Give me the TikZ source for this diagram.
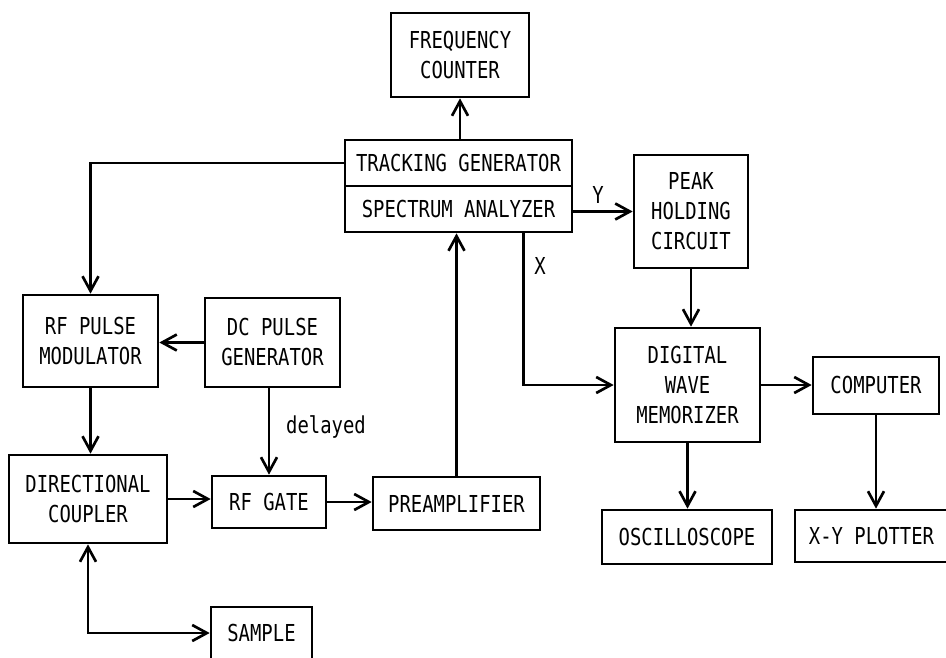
\documentclass[tikz,border=0pt]{standalone}
\usepackage{fontspec}
\newfontfamily\lab[FakeStretch=0.81]{DejaVu Sans Mono}
\usetikzlibrary{arrows.meta}
\begin{document}
\begin{tikzpicture}[x=0.75pt,y=-0.75pt,
  lblfont/.style={font=\lab\fontsize{17.5}{22.5}\selectfont},
  box/.style={draw,line width=2pt,align=center,inner sep=0pt,lblfont},
  tip/.tip={Straight Barb[length=11pt,width=12pt,line width=2pt]},
  arr/.style={line width=2pt,-tip},
  arrb/.style={line width=2pt,tip-tip},
  lbl/.style={lblfont,inner sep=0pt}]
\useasboundingbox (0,0) rectangle (946,657);
\clip (0,0) rectangle (946,657);
\fill[white] (0,0) rectangle (946,657);

\node[box,minimum width=103.5pt,minimum height=63pt] (freq) at (460,55) {FREQUENCY\\COUNTER};
\node[box,minimum width=170.25pt,minimum height=34.5pt] (track) at (458.5,163) {TRACKING GENERATOR};
\node[box,minimum width=170.25pt,minimum height=34.5pt] (spec) at (458.5,209) {SPECTRUM ANALYZER};
\node[box,minimum width=85.5pt,minimum height=84.75pt] (peak) at (691,211.5) {PEAK\\HOLDING\\CIRCUIT};
\node[box,minimum width=108.75pt,minimum height=85.5pt] (digital) at (687.5,385) {DIGITAL\\WAVE\\MEMORIZER};
\node[box,minimum width=94.5pt,minimum height=42.75pt] (computer) at (876,385.5) {COMPUTER};
\node[box,minimum width=127.5pt,minimum height=40.5pt] (oscill) at (687,537) {OSCILLOSCOPE};
\node[box,minimum width=114.75pt,minimum height=39pt] (xy) at (871.5,536) {X-Y PLOTTER};
\node[box,minimum width=101.25pt,minimum height=69pt] (rfmod) at (90.5,341) {RF PULSE\\MODULATOR};
\node[box,minimum width=101.25pt,minimum height=66.75pt] (dcpulse) at (272.5,342.5) {DC PULSE\\GENERATOR};
\node[box,minimum width=118.5pt,minimum height=66pt] (dircoupler) at (88,499) {DIRECTIONAL\\COUPLER};
\node[box,minimum width=85.5pt,minimum height=39pt] (rfgate) at (269,502) {RF GATE};
\node[box,minimum width=125.25pt,minimum height=39.75pt] (preamp) at (456.5,503.5) {PREAMPLIFIER};
\node[box,minimum width=75.75pt,minimum height=39pt] (sample) at (261.5,633) {SAMPLE};

\draw[arr] (freq.south |- track.north) -- (freq.south);
\draw[arr] (track.west) -| (rfmod.north);
\draw[arr] (dcpulse.west) -- (dcpulse.west -| rfmod.east);
\draw[arr] (rfmod.south) -- (rfmod.south |- dircoupler.north);
\draw[arr] (rfgate.north |- dcpulse.south) -- (rfgate.north);
\node[lbl] (delayed) at (326,427) {delayed};
\draw[arr] (dircoupler.east) -- (dircoupler.east -| rfgate.west);
\draw[arr] (rfgate.east) -- (rfgate.east -| preamp.west);
\draw[arr] (preamp.north) -- (preamp.north |- spec.south);
\draw[arrb] (dircoupler.south) |- (sample.west);
\draw[arr] (spec.east |- peak.west) -- (peak.west);
\node[lbl] (ylab) at (598,195) {Y};
\draw[arr] ([xshift=-37.5pt]spec.south east) |- (digital.west);
\node[lbl] (xlab) at (540,266) {X};
\draw[arr] (peak.south) -- (peak.south |- digital.north);
\draw[arr] (digital.east) -- (digital.east -| computer.west);
\draw[arr] (digital.south) -- (digital.south |- oscill.north);
\draw[arr] (computer.south) -- (computer.south |- xy.north);
\end{tikzpicture}
\end{document}
